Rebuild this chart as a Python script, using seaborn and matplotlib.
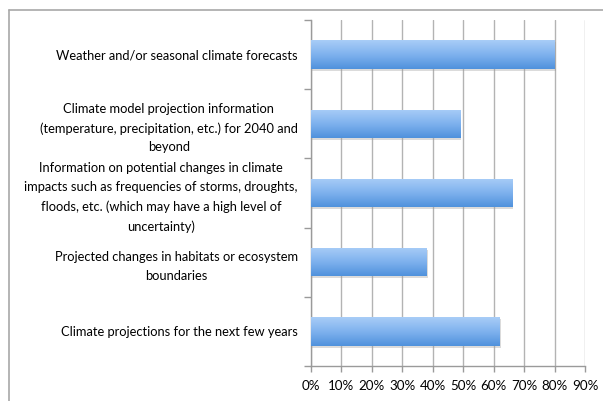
import numpy as np
import pandas as pd
import matplotlib
matplotlib.use("Agg")
import matplotlib.pyplot as plt
from matplotlib.lines import Line2D
from matplotlib.ticker import FixedLocator
import seaborn as sns

categories = [
    "Weather and/or seasonal climate forecasts",
    "Climate model projection information\n(temperature, precipitation, etc.) for 2040 and\nbeyond",
    "Information on potential changes in climate\nimpacts such as frequencies of storms, droughts,\nfloods, etc. (which may have a high level of\nuncertainty)",
    "Projected changes in habitats or ecosystem\nboundaries",
    "Climate projections for the next few years",
]
shares = [80, 49, 66, 38, 62]
x_ticks = [0, 10, 20, 30, 40, 50, 60, 70, 80, 90]
x_tick_labels = [f"{v}%" for v in x_ticks]

df = pd.DataFrame({"category": categories, "share": shares})

sns.set_theme(style="white")
plt.rcParams["font.family"] = ["Lato", "DejaVu Sans"]

fig = plt.figure(figsize=(6.03, 4.01), dpi=100)
ax = fig.add_axes([311 / 603, 1 - 366 / 401, 274.3 / 603, 346 / 401])

sns.barplot(data=df, y="category", x="share", orient="h", ax=ax,
            color="#6fa6e6", width=0.41, saturation=1, edgecolor="none", zorder=3)

# vertical gradient fill on each bar, plus a soft drop shadow
grad = np.linspace(0, 1, 256).reshape(-1, 1)
cmap = matplotlib.colors.LinearSegmentedColormap.from_list(
    "barfill", ["#a9cdf7", "#7fb2ee", "#4f91dc"])
for p in list(ax.patches):
    x0, y0 = p.get_x(), p.get_y()
    w, h = p.get_width(), p.get_height()
    sh = matplotlib.patches.Rectangle((x0 + 0.25, y0 + 0.03), w, h,
                                      facecolor="#9a9a9a", alpha=0.35,
                                      edgecolor="none", zorder=2)
    ax.add_patch(sh)
    im = ax.imshow(grad, cmap=cmap, aspect="auto",
                   extent=(x0, x0 + w, y0 + h, y0), zorder=4,
                   interpolation="bilinear")
    im.set_clip_path(p)
ax.set_xlim(0, 90)
ax.set_ylim(4.5, -0.5)

# grid and axes
ax.set_xticks(x_ticks)
ax.set_xticklabels(x_tick_labels, fontsize=9.6, color="black")
ax.xaxis.grid(True, color="#b3b3b3", linewidth=1.0, zorder=0)
ax.set_axisbelow(True)
ax.set_xlabel("")
ax.set_ylabel("")
for side in ["top", "right"]:
    ax.spines[side].set_visible(False)
for side in ["left", "bottom"]:
    ax.spines[side].set_color("#9a9a9a")
    ax.spines[side].set_linewidth(1.0)

ax.tick_params(axis="x", which="major", bottom=True, length=4, width=1,
               color="#9a9a9a", pad=6)
ax.tick_params(axis="y", which="major", left=False, length=0, pad=9.5)
ax.yaxis.set_minor_locator(FixedLocator([-0.5, 0.5, 1.5, 2.5, 3.5, 4.5]))
ax.tick_params(axis="y", which="minor", left=True, length=5, width=1,
               color="#9a9a9a")
for lab in ax.get_yticklabels():
    lab.set_fontsize(9.3)
    lab.set_color("black")
    lab.set_multialignment("center")
    lab.set_linespacing(1.68)

# outer chart frame
fig.add_artist(Line2D([9 / 603, 1], [1 - 9.5 / 401, 1 - 9.5 / 401],
                      color="#a8a8a8", linewidth=1.2, transform=fig.transFigure))
fig.add_artist(Line2D([9 / 603, 9 / 603], [0, 1 - 9.5 / 401],
                      color="#a8a8a8", linewidth=1.2, transform=fig.transFigure))

fig.savefig("out.png", dpi=100)
